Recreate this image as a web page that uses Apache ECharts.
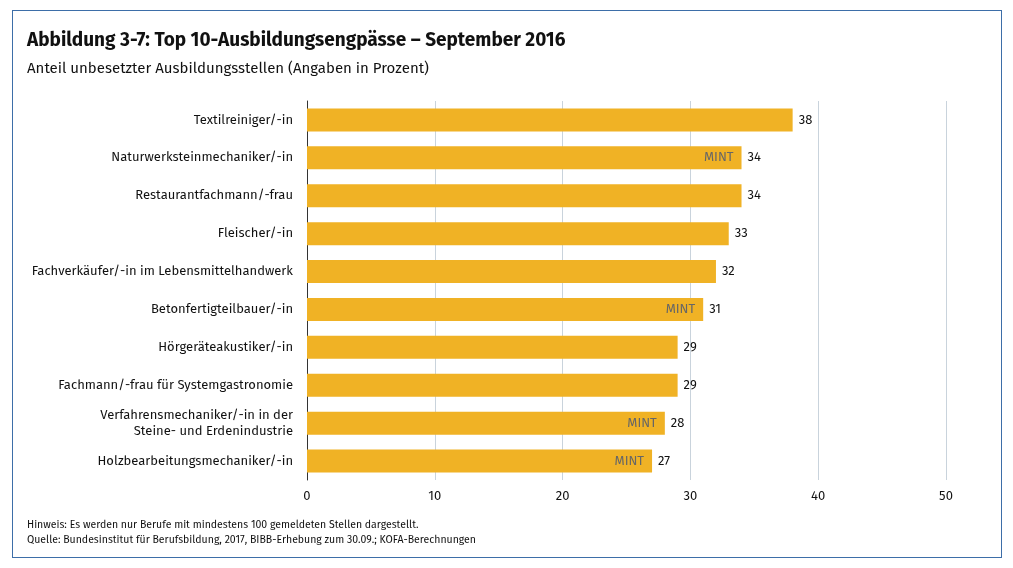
<!DOCTYPE html>
<html><head><meta charset="utf-8">
<script src="https://cdn.jsdelivr.net/npm/echarts@6/dist/echarts.min.js"></script>
<style>
html,body{margin:0;padding:0;background:#fff;}
#frame{position:absolute;left:12px;top:10px;width:988px;height:546px;border:1px solid #3d6ea8;}
#chart{position:absolute;left:0;top:0;width:1013px;height:568px;}
</style></head>
<body>
<div id="frame"></div>
<div id="chart"></div>
<script>
const categories = ['Textilreiniger/-in','Naturwerksteinmechaniker/-in','Restaurantfachmann/-frau','Fleischer/-in',
  'Fachverkäufer/-in im Lebensmittelhandwerk','Betonfertigteilbauer/-in','Hörgeräteakustiker/-in',
  'Fachmann/-frau für Systemgastronomie','Verfahrensmechaniker/-in in der\nSteine- und Erdenindustrie','Holzbearbeitungsmechaniker/-in'];
const values = [38,34,34,33,32,31,29,29,28,27];
const mint = [false,true,false,false,false,true,false,false,true,true];

const font = '"Fira Sans","Open Sans","Noto Sans",sans-serif';
let chart = echarts.init(document.getElementById('chart'));
chart.setOption({
    textStyle: {fontFamily: font},
    title: [
        {text: 'Abbildung 3-7: Top 10-Ausbildungsengpässe – September 2016', left: 22, top: 26,
         textStyle: {fontSize: 19, fontWeight: 'bold', color: '#111', fontFamily: font}},
        {text: 'Anteil unbesetzter Ausbildungsstellen (Angaben in Prozent)', left: 22, top: 56,
         textStyle: {fontSize: 15, fontWeight: 'normal', color: '#111', fontFamily: font}},
        {text: 'Hinweis: Es werden nur Berufe mit mindestens 100 gemeldeten Stellen dargestellt.\nQuelle: Bundesinstitut für Berufsbildung, 2017, BIBB-Erhebung zum 30.09.; KOFA-Berechnungen',
         left: 22, top: 513, textStyle: {fontSize: 10.5, fontWeight: 'normal', color: '#111', lineHeight: 15, fontFamily: font}}
    ],
    grid: {left: 307, right: 67, top: 101, bottom: 88},
    xAxis: {
        type: 'value', min: 0, max: 50, interval: 10,
        axisLine: {show: false}, axisTick: {show: false},
        axisLabel: {color: '#111', fontSize: 13, margin: 10},
        splitLine: {lineStyle: {color: '#c9d3dc', width: 1}}
    },
    yAxis: {
        type: 'category', inverse: true, data: categories,
        axisLine: {lineStyle: {color: '#333'}}, axisTick: {show: false},
        axisLabel: {color: '#111', fontSize: 13, margin: 14, align: 'right', lineHeight: 16}
    },
    series: [{
        type: 'bar', barWidth: 23,
        itemStyle: {color: '#f0b225'},
        data: values.map((v, i) => ({value: v, mint: mint[i]})),
        label: {show: true, position: 'right', color: '#111', fontSize: 13, distance: 6},
        z: 2
    }, {
        type: 'bar', barWidth: 23, barGap: '-100%',
        itemStyle: {color: 'transparent'},
        data: values.map((v, i) => mint[i] ? v : '-'),
        label: {show: true, position: 'insideRight', formatter: 'MINT', color: '#666', fontSize: 13, distance: 8},
        silent: true, z: 3
    }]
});
</script>
</body></html>
